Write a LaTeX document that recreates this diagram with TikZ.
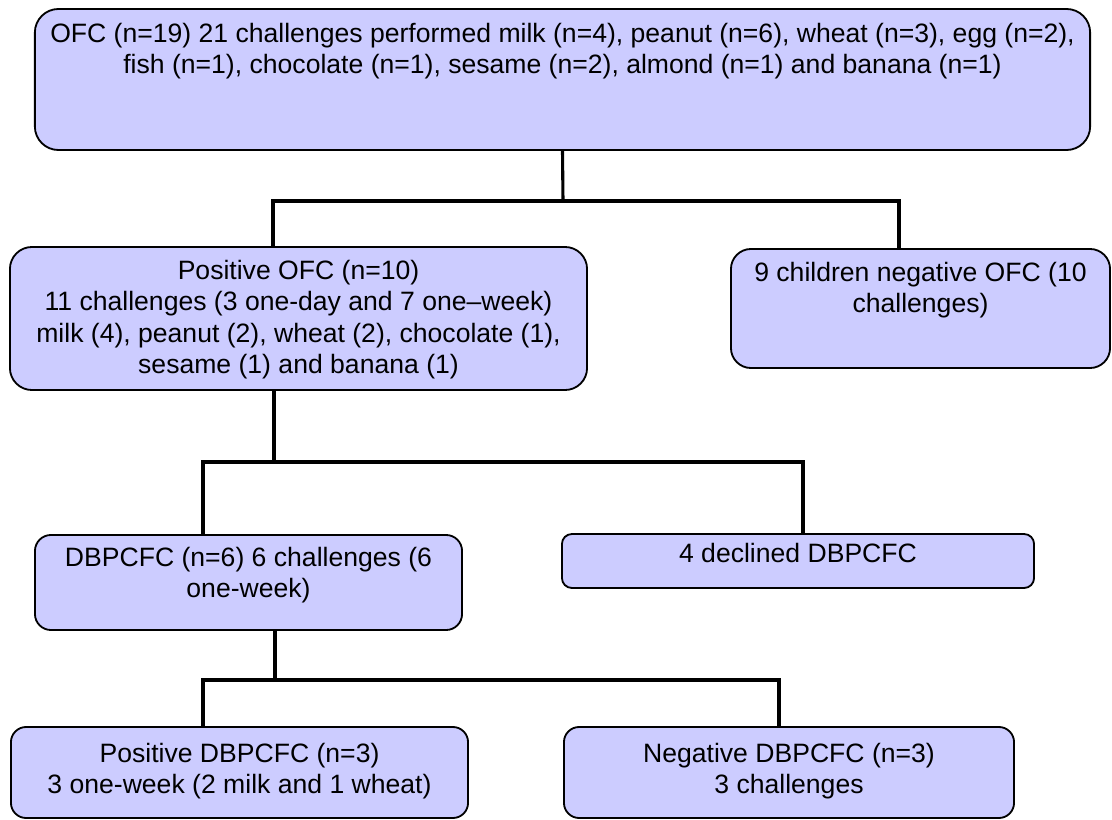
\documentclass[tikz,border=0pt]{standalone}
\usepackage{fontspec}
\setmainfont{Liberation Sans}
\usetikzlibrary{positioning}
\definecolor{blockfill}{RGB}{204,204,255}
\tikzset{
	block/.style     = {draw, line width=1.3pt, fill=blockfill, rectangle,
		inner sep=0pt},
	blocktext/.style = {anchor=north, align=center, inner sep=0pt,
		font=\fontsize{18.9}{22.2}\selectfont},
}

\begin{document}
\begin{tikzpicture}[ x=0.025cm, y=-0.025cm,      %<--one unit is one pixel of the sketch
                     line width=2.2pt ]          %<--setting line style
    \useasboundingbox (0,0) rectangle (1112,820);

    \draw%-----------------------------------------------------------------------------------------
    	%Drawing the Blocks:
    	node(ofc) at (562.5,79.5) [block, minimum width=26.375cm, minimum height=3.525cm, rounded corners=0.59cm] {}
    	node(posofc) at (298.5,318.5) [block, minimum width=14.425cm, minimum height=3.575cm, rounded corners=0.55cm] {}
    	node(negofc) at (920.5,308.5) [block, minimum width=9.475cm, minimum height=2.975cm, rounded corners=0.5cm] {}
    	node(dbpcfc) at (248.5,582.5) [block, minimum width=10.675cm, minimum height=2.375cm, rounded corners=0.4cm] {}
    	node(declined) at (798,561) [block, minimum width=11.8cm, minimum height=1.35cm, rounded corners=0.25cm] {}
    	node(posdb) at (239.5,772.5) [block, minimum width=11.425cm, minimum height=2.275cm, rounded corners=0.38cm] {}
    	node(negdb) at (789,772.5) [block, minimum width=11.25cm, minimum height=2.275cm, rounded corners=0.38cm] {}
    	%Drawing the Split Nodes:
    	node[shape=coordinate][](split1) at (563,201){}
    	node[shape=coordinate][](j1L) at (273,201){}
    	node[shape=coordinate][](j1R) at (899,201){}
    	node[shape=coordinate][](split2) at (274,462){}
    	node[shape=coordinate][](j2L) at (203,462){}
    	node[shape=coordinate][](j2R) at (803,462){}
    	node[shape=coordinate][](split3) at (275,680){}
    	node[shape=coordinate][](j3L) at (203,680){}
    	node[shape=coordinate][](j3R) at (779,680){}
    ;%---------------------------------------------------------------------------------------------

    %Writing the Block Texts
    \node[blocktext] (ofctext) at ([yshift=-0.34cm]ofc.north)
    	{OFC (n=19) 21 challenges performed milk (n=4), peanut (n=6), wheat (n=3), egg (n=2),\\
    	 fish (n=1), chocolate (n=1), sesame (n=2), almond (n=1) and banana (n=1)};
    \node[blocktext] (posofctext) at ([yshift=-0.32cm]posofc.north)
    	{Positive OFC (n=10)\\
    	 11 challenges (3 one-day and 7 one–week)\\
    	 milk (4), peanut (2), wheat (2), chocolate (1),\\
    	 sesame (1) and banana (1)};
    \node[blocktext] (negofctext) at ([yshift=-0.32cm]negofc.north)
    	{9 children negative OFC (10\\ challenges)};
    \node[blocktext] (dbpcfctext) at ([yshift=-0.29cm]dbpcfc.north)
    	{DBPCFC (n=6) 6 challenges (6\\ one-week)};
    \node[blocktext] (declinedtext) at ([yshift=-0.22cm]declined.north)
    	{4 declined DBPCFC};
    \node[blocktext] (posdbtext) at ([yshift=-0.39cm]posdb.north)
    	{Positive DBPCFC (n=3)\\ 3 one-week (2 milk and 1 wheat)};
    \node[blocktext] (negdbtext) at ([yshift=-0.39cm]negdb.north)
    	{Negative DBPCFC (n=3)\\ 3 challenges};

    %Joining the Blocks
  	\draw (ofc.south) -- (split1);
  	\draw (posofc.north -| j1L) |- (j1R) -- (negofc.north -| j1R);
  	\draw (posofc.south -| split2) -- (split2);
  	\draw (dbpcfc.north -| j2L) |- (j2R) -- (declined.north -| j2R);
  	\draw (dbpcfc.south -| split3) -- (split3);
  	\draw (posdb.north -| j3L) |- (j3R) -- (negdb.north -| j3R);
\end{tikzpicture}
\end{document}
